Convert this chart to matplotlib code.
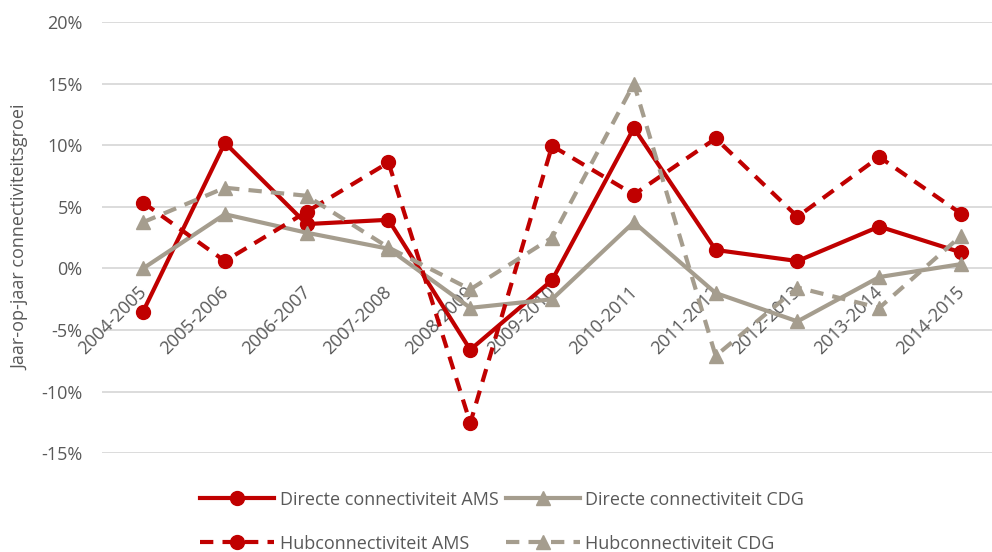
import numpy as np
import matplotlib.pyplot as plt
from matplotlib.ticker import FuncFormatter
import matplotlib.transforms as mtransforms

plt.rcParams['font.family'] = ['Open Sans', 'DejaVu Sans']

# Data (jaar-op-jaar groei in %)
perioden = ['2004-2005', '2005-2006', '2006-2007', '2007-2008', '2008-2009',
            '2009-2010', '2010-2011', '2011-2012', '2012-2013', '2013-2014',
            '2014-2015']
directe_ams = [-3.5, 10.2, 3.6, 3.95, -6.6, -0.95, 11.4, 1.5, 0.6, 3.4, 1.3]
directe_cdg = [0.0, 4.4, 2.9, 1.6, -3.2, -2.5, 3.75, -2.0, -4.3, -0.7, 0.35]
hub_ams = [5.35, 0.6, 4.6, 8.6, -12.55, 9.95, 6.0, 10.55, 4.2, 9.05, 4.45]
hub_cdg = [3.75, 6.55, 5.9, 1.7, -1.7, 2.5, 15.0, -7.1, -1.55, -3.2, 2.65]

rood = '#C00000'
grijs = '#A59D8E'
tekst = '#595959'
fs = 13

fig = plt.figure(figsize=(9.92, 5.52), dpi=100)
ax = fig.add_axes([0.103, 0.179, 0.897, 0.781])

x = np.arange(len(perioden))
lw = 3.0
dash = (3.2, 2.2)

l1, = ax.plot(x, directe_ams, color=rood, lw=lw, marker='o', ms=10,
              label='Directe connectiviteit AMS', zorder=3)
l2, = ax.plot(x, directe_cdg, color=grijs, lw=lw, marker='^', ms=10.5,
              label='Directe connectiviteit CDG', zorder=3)
l3, = ax.plot(x, hub_ams, color=rood, lw=lw, marker='o', ms=10,
              dashes=dash, label='Hubconnectiviteit AMS', zorder=3)
l4, = ax.plot(x, hub_cdg, color=grijs, lw=lw, marker='^', ms=10.5,
              dashes=dash, label='Hubconnectiviteit CDG', zorder=3)

ax.set_ylim(-15, 20)
ax.set_xlim(-0.5, -0.5 + 0.897 * 992 / 81.8)
ax.set_yticks(np.arange(-15, 21, 5))
ax.yaxis.set_major_formatter(FuncFormatter(lambda v, p: f'{v:.0f}%'))
ax.grid(axis='y', color='#D9D9D9', lw=1.3, zorder=0)
for s in ax.spines.values():
    s.set_visible(False)
ax.tick_params(axis='y', length=0, labelsize=fs, labelcolor=tekst, pad=14)
ax.set_xticks([])

# categorie-labels langs de 0%-lijn
offset = mtransforms.ScaledTranslation(0.5 / 72, -15 / 72, fig.dpi_scale_trans)
for i, p in enumerate(perioden):
    ax.text(i, 0, p, rotation=45, ha='right', va='center',
            rotation_mode='anchor', fontsize=fs, color=tekst,
            transform=ax.transData + offset, zorder=2)

ax.set_ylabel('Jaar-op-jaar connectiviteitsgroei', fontsize=fs, color=tekst)
ax.yaxis.set_label_coords(-0.082, 0.5)

fig.legend(handles=[l1, l3, l2, l4], ncol=2, loc='center',
           bbox_to_anchor=(0.506, 0.055), frameon=False, fontsize=fs,
           labelcolor=tekst, handlelength=4.1, handletextpad=0.3,
           columnspacing=0.4, labelspacing=1.45)

fig.savefig('out.png', dpi=100)
